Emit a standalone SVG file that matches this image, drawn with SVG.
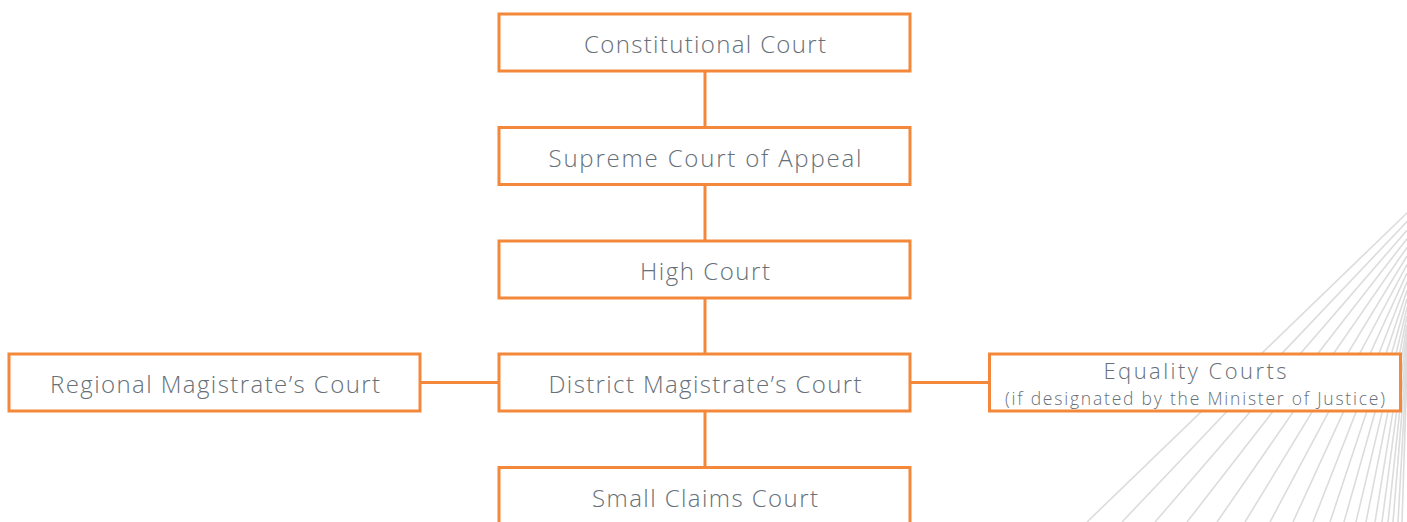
<svg xmlns="http://www.w3.org/2000/svg" width="1407" height="522" viewBox="0 0 1407 522">
<style>
.bg line{stroke:#dcdcdc;stroke-width:1.6}
.box{fill:#fff;stroke:#f3873a;stroke-width:3}
.conn line{stroke:#f3873a;stroke-width:3}
text{font-family:"Open Sans",Lato,"Liberation Sans",sans-serif;font-weight:300;fill:#667078;text-anchor:middle;font-size:24px}
text.main2{font-size:22px}
text.sub{font-size:17.5px}
</style>
<rect width="1407" height="522" fill="#fff"/>
<g class="bg">
<line x1="1087" y1="522" x2="1407" y2="213"/>
<line x1="1122" y1="522" x2="1407" y2="221.6"/>
<line x1="1155" y1="522" x2="1407" y2="230.2"/>
<line x1="1187" y1="522" x2="1407" y2="238.8"/>
<line x1="1217" y1="522" x2="1407" y2="247.4"/>
<line x1="1245" y1="522" x2="1407" y2="256"/>
<line x1="1270" y1="522" x2="1407" y2="264.6"/>
<line x1="1293" y1="522" x2="1407" y2="273.2"/>
<line x1="1313" y1="522" x2="1407" y2="281.8"/>
<line x1="1330" y1="522" x2="1407" y2="290.4"/>
<line x1="1344" y1="522" x2="1407" y2="299"/>
<line x1="1356" y1="522" x2="1407" y2="307.6"/>
<line x1="1366" y1="522" x2="1407" y2="316.2"/>
<line x1="1375" y1="522" x2="1407" y2="324.8"/>
<line x1="1382" y1="522" x2="1407" y2="333.4"/>
<line x1="1388" y1="522" x2="1407" y2="342"/>
<line x1="1393" y1="522" x2="1407" y2="350.6"/>
<line x1="1398" y1="522" x2="1407" y2="359.2"/>
<line x1="1402" y1="522" x2="1407" y2="367.8"/>
</g>
<g class="conn">
<line x1="705" y1="72" x2="705" y2="127"/>
<line x1="705" y1="185" x2="705" y2="240"/>
<line x1="705" y1="298" x2="705" y2="353"/>
<line x1="705" y1="411" x2="705" y2="467"/>
<line x1="420" y1="382.5" x2="499" y2="382.5"/>
<line x1="910" y1="382.5" x2="990" y2="382.5"/>
</g>
<g id="constitutional-court"><rect class="box" x="499" y="14" width="411" height="57"/><text x="705" y="52.5" textLength="242">Constitutional Court</text></g>
<g id="supreme-court-of-appeal"><rect class="box" x="499" y="127.5" width="411" height="57"/><text x="705" y="166.5" textLength="313">Supreme Court of Appeal</text></g>
<g id="high-court"><rect class="box" x="499" y="241" width="411" height="57"/><text x="705" y="279.5" textLength="130">High Court</text></g>
<g id="district-magistrates-court"><rect class="box" x="499" y="354" width="411" height="57"/><text x="705" y="393" textLength="313">District Magistrate’s Court</text></g>
<g id="regional-magistrates-court"><rect class="box" x="9" y="354" width="411" height="57"/><text x="215" y="393" textLength="330">Regional Magistrate’s Court</text></g>
<g id="equality-courts"><rect class="box" x="989.5" y="354" width="411" height="57"/><text class="main2" x="1195" y="379" textLength="183">Equality Courts</text><text class="sub" x="1195" y="405" textLength="380">(if designated by the Minister of Justice)</text></g>
<g id="small-claims-court"><rect class="box" x="499" y="467.5" width="411" height="60"/><text x="705" y="506.5" textLength="226">Small Claims Court</text></g>
</svg>
